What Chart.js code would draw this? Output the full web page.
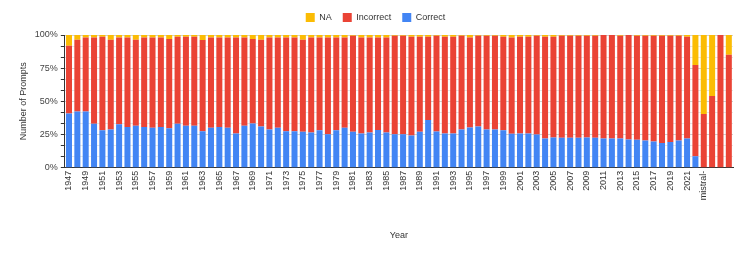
<!DOCTYPE html>
<html>
<head>
<meta charset="utf-8">
<script src="https://cdn.jsdelivr.net/npm/chart.js@4/dist/chart.umd.min.js"></script>
<style>
  html, body { margin: 0; padding: 0; background: #fff; }
  #wrap { width: 747px; height: 253px; }
</style>
</head>
<body>
<div id="wrap"><canvas id="c" width="747" height="253"></canvas></div>
<script>
// Categories: years 1947–2022 followed by model rows
const years = [];
for (let y = 1947; y <= 2022; y++) years.push(String(y));
const categories = years.concat(["mistral-", "", "", ""]);

// Share of prompts (%)
const correct = [
  40.9, 42.4, 42.4, 33.1, 28.3, 28.8, 32.8, 30.6, 31.6, 30.6,
  30.1, 30.6, 29.8, 33.1, 31.6, 31.6, 27.5, 30.1, 30.6, 30.1,
  25.8, 31.6, 33.3, 31.1, 28.8, 30.1, 27.5, 27.5, 27.0, 26.5,
  28.3, 25.3, 28.3, 30.1, 27.0, 25.8, 26.5, 28.5, 26.5, 25.3,
  25.3, 24.2, 27.0, 35.9, 27.3, 25.8, 25.8, 28.8, 30.3, 31.1,
  28.8, 28.8, 28.3, 25.5, 25.8, 25.8, 25.0, 22.0, 22.7, 22.5,
  22.5, 22.5, 22.7, 22.5, 22.0, 22.0, 22.0, 21.2, 21.0, 20.5,
  19.7, 18.7, 19.4, 20.5, 22.0, 8.6, 0, 0, 0, 0
];
const incorrect = [
  51.0, 54.1, 55.8, 65.1, 70.4, 67.7, 65.4, 67.6, 64.9, 67.6,
  68.1, 67.6, 67.2, 65.6, 67.1, 67.1, 68.7, 68.1, 67.6, 68.1,
  72.4, 66.6, 63.7, 65.4, 69.4, 68.1, 70.7, 70.7, 69.5, 71.7,
  69.9, 72.9, 69.9, 68.1, 72.5, 72.4, 71.7, 69.7, 71.7, 74.2,
  74.2, 74.5, 71.7, 62.8, 72.2, 72.9, 72.9, 70.7, 67.9, 68.4,
  70.7, 70.7, 70.4, 72.7, 72.9, 72.9, 74.5, 76.7, 76.0, 77.0,
  77.0, 77.0, 76.8, 77.0, 78.0, 78.0, 77.5, 78.8, 78.5, 79.0,
  79.8, 80.8, 80.1, 79.0, 76.7, 68.7, 40.4, 54.0, 100, 85.1
];
const na = [
  8.1, 3.5, 1.8, 1.8, 1.3, 3.5, 1.8, 1.8, 3.5, 1.8,
  1.8, 1.8, 3.0, 1.3, 1.3, 1.3, 3.8, 1.8, 1.8, 1.8,
  1.8, 1.8, 3.0, 3.5, 1.8, 1.8, 1.8, 1.8, 3.5, 1.8,
  1.8, 1.8, 1.8, 1.8, 0.5, 1.8, 1.8, 1.8, 1.8, 0.5,
  0.5, 1.3, 1.3, 1.3, 0.5, 1.3, 1.3, 0.5, 1.8, 0.5,
  0.5, 0.5, 1.3, 1.8, 1.3, 1.3, 0.5, 1.3, 1.3, 0.5,
  0.5, 0.5, 0.5, 0.5, 0, 0, 0.5, 0, 0.5, 0.5,
  0.5, 0.5, 0.5, 0.5, 1.3, 22.7, 59.6, 46.0, 0, 14.9
];
const yTickLabels = ["0%", "25%", "50%", "75%", "100%"];

const FONT = "'Liberation Sans', Arial, sans-serif";
Chart.defaults.font.family = FONT;
Chart.defaults.color = "#444";

// adds a little space under the legend
const legendGap = {
  id: "legendGap",
  beforeInit(chart) {
    const lg = chart.legend;
    const orig = lg.fit;
    lg.fit = function () { orig.call(this); this.height += 3; };
  }
};

new Chart(document.getElementById("c"), {
  type: "bar",
  plugins: [legendGap],
  data: {
    labels: categories,
    datasets: [
      { label: "Correct", data: correct, backgroundColor: "#4285f4" },
      { label: "Incorrect", data: incorrect, backgroundColor: "#ea4335" },
      { label: "NA", data: na, backgroundColor: "#fbbc04" }
    ]
  },
  options: {
    responsive: false,
    animation: false,
    layout: { padding: { left: 18, right: 14, top: 2, bottom: 12 } },
    datasets: { bar: { barPercentage: 0.72, categoryPercentage: 1.0 } },
    plugins: {
      tooltip: { enabled: false },
      legend: {
        position: "top",
        reverse: true,
        labels: {
          boxWidth: 9, boxHeight: 9, padding: 11,
          font: { size: 9 }, color: "#333"
        }
      }
    },
    scales: {
      x: {
        stacked: true,
        grid: { display: false, drawTicks: false },
        border: { color: "#333" },
        ticks: {
          autoSkip: false, minRotation: 90, maxRotation: 90,
          padding: 3, font: { size: 9 }, color: "#333",
          callback: function (v, i) {
            return (i % 2 === 0 && i <= 76) ? categories[i] : "";
          }
        },
        title: {
          display: true, text: "Year", font: { size: 9 }, color: "#333",
          padding: { top: 27, bottom: 0 }
        }
      },
      y: {
        stacked: true,
        min: 0, max: 100,
        afterBuildTicks: function (axis) {
          const t = [];
          for (let k = 0; k <= 12; k++) t.push({ value: k * 100 / 12 });
          axis.ticks = t;
        },
        grid: {
          color: function (ctx) {
            const v = ctx.tick ? ctx.tick.value : 0;
            const m = v % 25;
            return (m < 0.01 || m > 24.99) ? "#d0d0d0" : "#e6e6e6";
          },
          tickColor: "#333", tickLength: 4
        },
        border: { color: "#333" },
        ticks: {
          autoSkip: false,
          padding: 3, font: { size: 9 }, color: "#444",
          callback: function (v) {
            const r = Math.round(v);
            if (Math.abs(v - r) < 0.01 && r % 25 === 0) return yTickLabels[r / 25];
            return "";
          }
        },
        title: {
          display: true, text: "Number of Prompts", font: { size: 9 }, color: "#333",
          padding: { top: 0, bottom: 3 }
        }
      }
    }
  }
});
</script>
</body>
</html>
